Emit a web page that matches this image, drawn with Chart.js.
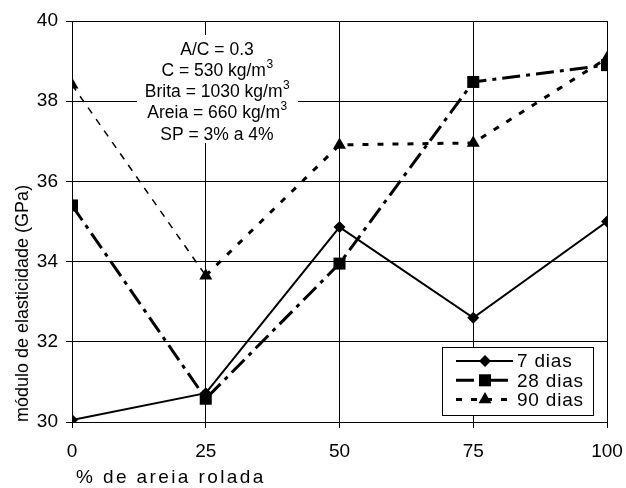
<!DOCTYPE html>
<html>
<head>
<meta charset="utf-8">
<script src="https://cdn.jsdelivr.net/npm/chart.js@4"></script>
<style>
  html, body { margin: 0; padding: 0; background: #fff; }
  #wrap { width: 626px; height: 488px; }
</style>
</head>
<body>
<div id="wrap"><canvas id="grafico" width="626" height="488"></canvas></div>
<script>
// --- dados ---
const pctAreia = [0, 25, 50, 75, 100];
const dias7  = [30.05, 30.72, 34.86, 32.60, 35.00];
const dias28 = [35.40, 30.58, 33.95, 38.48, 38.90];
const dias90 = [38.41, 33.65, 36.91, 36.96, 39.07];
const serieNomes = ['7 dias', '28 dias', '90 dias'];
const yMin = 30, yMax = 40, yPasso = 2;
const xPasso = 25;
const tituloX = '% de areia rolada';
const tituloY = 'módulo de elasticidade (GPa)';
const notaLinhas = [
    ['A/C = 0.3', ''],
    ['C = 530 kg/m', '3'],
    ['Brita = 1030 kg/m', '3'],
    ['Areia = 660 kg/m', '3'],
    ['SP = 3% a 4%', '']
];

const FONTE = "'Liberation Sans', Arial, sans-serif";

function pontos(vals) {
    return pctAreia.map((x, i) => ({ x: x, y: vals[i] }));
}

// caixa com a composição do traço
const notaPlugin = {
    id: 'nota',
    beforeDatasetsDraw(chart) {
        const { ctx } = chart;
        const cx = 217, y0 = 50, dy = 21.2;
        ctx.save();
        ctx.fillStyle = '#fff';
        ctx.fillRect(137, 35, 161, 108);
        ctx.fillStyle = '#000';
        ctx.textBaseline = 'middle';
        ctx.textAlign = 'left';
        notaLinhas.forEach((l, i) => {
            ctx.font = '17.5px ' + FONTE;
            const w1 = ctx.measureText(l[0]).width;
            ctx.font = '12px ' + FONTE;
            const w2 = l[1] ? ctx.measureText(l[1]).width : 0;
            const x = cx - (w1 + w2) / 2;
            const y = y0 + i * dy;
            ctx.font = '17.5px ' + FONTE;
            ctx.fillText(l[0], x, y);
            if (l[1]) {
                ctx.font = '12px ' + FONTE;
                ctx.fillText(l[1], x + w1 + 0.5, y - 7);
            }
        });
        ctx.restore();
    }
};

// legenda em caixa no canto inferior direito + título do eixo x
const legendaPlugin = {
    id: 'legendaCaixa',
    afterDraw(chart) {
        const { ctx } = chart;
        const bx = 442, by = 347, bw = 151, bh = 68;
        ctx.save();
        ctx.fillStyle = '#fff';
        ctx.fillRect(bx, by, bw, bh);
        ctx.strokeStyle = '#000';
        ctx.lineWidth = 1;
        ctx.strokeRect(bx + 0.5, by + 0.5, bw, bh);
        chart.data.datasets.forEach((ds, i) => {
            const y = by + 14 + i * 19.3;
            ctx.strokeStyle = '#000';
            ctx.lineWidth = ds.borderWidth;
            ctx.setLineDash(ds.borderDash || []);
            ctx.beginPath();
            ctx.moveTo(456, y);
            ctx.lineTo(513, y);
            ctx.stroke();
            ctx.setLineDash([]);
            ctx.fillStyle = '#000';
            Chart.helpers.drawPoint(ctx, {
                pointStyle: ds.pointStyle,
                radius: ds.pointRadius,
                rotation: 0,
                borderWidth: 0
            }, 485, y);
            ctx.fillStyle = '#000';
            ctx.font = '19px ' + FONTE;
            ctx.letterSpacing = '0.8px';
            ctx.textAlign = 'left';
            ctx.textBaseline = 'middle';
            ctx.fillText(ds.label, 517, y + 1);
            ctx.letterSpacing = '0px';
        });

        ctx.fillStyle = '#000';
        ctx.font = '19px ' + FONTE;
        ctx.letterSpacing = '2.4px';
        ctx.textAlign = 'left';
        ctx.textBaseline = 'middle';
        ctx.fillText(tituloX, 76, 478);
        ctx.restore();
    }
};

const estilos = [
    { dash: [], width: 2, style: 'rectRot', r: 6 },
    { dash: [18, 6, 4, 6], width: 3, style: 'rect', r: 8.5 },
    { dash: [6, 9], width: 3, style: 'triangle', r: 7.5 }
];

const series = [dias7, dias28, dias90];

new Chart(document.getElementById('grafico').getContext('2d'), {
    type: 'line',
    data: {
        datasets: series.map((vals, i) => ({
            label: serieNomes[i],
            data: pontos(vals),
            borderColor: '#000',
            backgroundColor: '#000',
            borderWidth: estilos[i].width,
            borderDash: estilos[i].dash,
            pointStyle: estilos[i].style,
            pointRadius: estilos[i].r,
            pointBorderWidth: 0,
            pointBackgroundColor: '#000',
            tension: 0,
            fill: false,
            // o primeiro trecho dos 90 dias sai mais fino
            segment: i === 2 ? {
                borderWidth: c => c.p0DataIndex === 0 ? 1.5 : undefined,
                borderDash: c => c.p0DataIndex === 0 ? [7, 7] : undefined
            } : {}
        }))
    },
    options: {
        responsive: false,
        animation: false,
        events: [],
        layout: { padding: { left: 0, right: 19, top: 21, bottom: 0 } },
        plugins: {
            legend: { display: false },
            tooltip: { enabled: false }
        },
        scales: {
            x: {
                type: 'linear',
                min: 0,
                max: 100,
                ticks: { stepSize: xPasso, color: '#000', padding: 12, font: { size: 19, family: FONTE }, maxRotation: 0 },
                grid: { color: '#000', lineWidth: 1, tickLength: 6, tickColor: '#000' },
                border: { color: '#000', width: 1 },
                afterFit(s) {
                    s.height = 66;
                    s.paddingLeft = 0;
                    s.paddingRight = 0;
                }
            },
            y: {
                min: yMin,
                max: yMax,
                ticks: { stepSize: yPasso, color: '#000', padding: 8, font: { size: 19, family: FONTE } },
                grid: { color: '#000', lineWidth: 1, tickLength: 6, tickColor: '#000' },
                border: { color: '#000', width: 1 },
                title: {
                    display: true,
                    text: tituloY,
                    align: 'start',
                    color: '#000',
                    padding: { top: 12, bottom: 0 },
                    font: { size: 18, family: FONTE }
                },
                afterFit(s) {
                    s.width = 72;
                    s.paddingTop = 0;
                    s.paddingBottom = 0;
                }
            }
        }
    },
    plugins: [notaPlugin, legendaPlugin]
});
</script>
</body>
</html>
